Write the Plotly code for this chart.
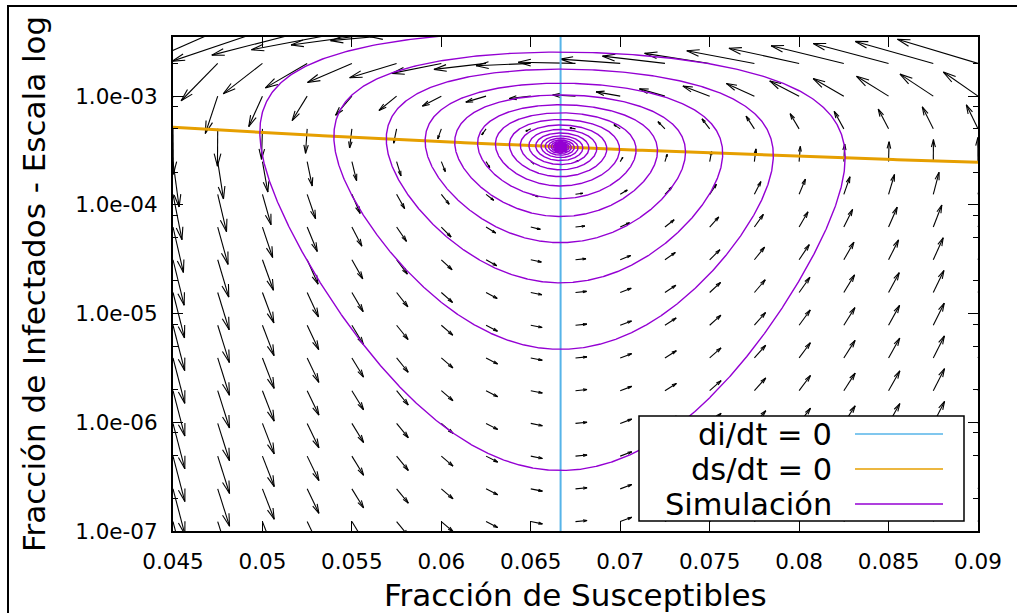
import numpy as np
import plotly.graph_objects as go

# ---- SIR model with births/deaths (rates per day) ----
mu = 1.0 / (75 * 365)        # birth / death rate
gamma = 0.1                  # recovery rate
R0 = 15.0                    # basic reproduction number
beta = R0 * (gamma + mu)     # transmission rate

# initial state of the simulation and its length
s0, i0 = 0.0602, 3.6e-3
t_days = 365 * 150
dt = 0.5
arrow_dt = 19.0              # time step used to scale the field vectors

# axes
s_range = [0.045, 0.09]
i_range = [1e-7, 3.5e-3]
x_ticks = [0.045, 0.05, 0.055, 0.06, 0.065, 0.07, 0.075, 0.08, 0.085, 0.09]
x_ticktext = ["0.045", "0.05", "0.055", "0.06", "0.065", "0.07", "0.075", "0.08", "0.085", "0.09"]
y_ticks = [1e-7, 1e-6, 1e-5, 1e-4, 1e-3]
y_ticktext = ["1.0e-07", "1.0e-06", "1.0e-05", "1.0e-04", "1.0e-03"]
y_minor = [2e-7, 5e-7, 8e-7, 2e-6, 5e-6, 8e-6, 2e-5, 5e-5, 8e-5,
           2e-4, 5e-4, 8e-4, 2e-3]

# grid of the direction field
field_s = [0.045, 0.0475, 0.05, 0.0525, 0.055, 0.0575, 0.06, 0.0625, 0.065,
           0.0675, 0.07, 0.0725, 0.075, 0.0775, 0.08, 0.0825, 0.085, 0.0875, 0.09]
field_i = [6.103516e-08, 1.220703e-07, 2.441406e-07, 4.882813e-07, 9.765625e-07,
           1.953125e-06, 3.90625e-06, 7.8125e-06, 1.5625e-05, 3.125e-05,
           6.25e-05, 1.25e-04, 2.5e-04, 5e-04, 1e-03, 2e-03, 4e-03]

labels = ["di/dt = 0", "ds/dt = 0", "Simulación"]
colors = ["#56b4e9", "#e69f00", "#9400d3"]

FONT = "DejaVu Sans"

# figure geometry (pixels)
FW, FH = 1017, 613
ML, MR, MT, MB = 173, 39, 37, 82
PW, PH = FW - ML - MR, FH - MT - MB


def ds_dt(s, i):
    return mu * (1 - s) - beta * s * i


def di_dt(s, i):
    return (beta * s - gamma - mu) * i


# ---- simulation (RK4 on s and ln i) ----
def rhs(s, li):
    i = np.exp(li)
    return mu * (1 - s) - beta * s * i, beta * s - gamma - mu


n = int(t_days / dt)
S = np.empty(n + 1)
LI = np.empty(n + 1)
s, li = s0, np.log(i0)
S[0], LI[0] = s, li
for k in range(n):
    a1, b1 = rhs(s, li)
    a2, b2 = rhs(s + 0.5 * dt * a1, li + 0.5 * dt * b1)
    a3, b3 = rhs(s + 0.5 * dt * a2, li + 0.5 * dt * b2)
    a4, b4 = rhs(s + dt * a3, li + dt * b3)
    s += dt * (a1 + 2 * a2 + 2 * a3 + a4) / 6
    li += dt * (b1 + 2 * b2 + 2 * b3 + b4) / 6
    S[k + 1], LI[k + 1] = s, li
S_sim = S[::2]
I_sim = np.exp(LI[::2])

# ---- direction field arrows (shaft + open head) ----
lx0, lx1 = s_range
ly0, ly1 = np.log10(i_range[0]), np.log10(i_range[1])


def to_px(s, i):
    return (s - lx0) / (lx1 - lx0) * PW, (np.log10(i) - ly0) / (ly1 - ly0) * PH


def from_px(x, y):
    return lx0 + x / PW * (lx1 - lx0), 10 ** (ly0 + y / PH * (ly1 - ly0))


ax_s, ax_i = [], []
ang = np.radians(15)
for si in field_s:
    for ii in field_i:
        s1 = si + arrow_dt * ds_dt(si, ii)
        i1 = ii + arrow_dt * di_dt(si, ii)
        if i1 <= 0:
            i1 = ii * 1e-3
        x0, y0 = to_px(si, ii)
        x1, y1 = to_px(s1, i1)
        L = np.hypot(x1 - x0, y1 - y0)
        if L < 1e-6:
            continue
        ux, uy = (x1 - x0) / L, (y1 - y0) / L
        h = min(13.0, 0.35 * L)
        ax_s += [si, s1, None]
        ax_i += [ii, i1, None]
        for sg in (1, -1):
            c, sn = np.cos(sg * ang), np.sin(sg * ang)
            bx = x1 - h * (c * ux - sn * uy)
            by = y1 - h * (sn * ux + c * uy)
            bs, bi = from_px(bx, by)
            ax_s += [s1, bs, None]
            ax_i += [i1, bi, None]

# ---- nullclines ----
s_star = (gamma + mu) / beta
nc_s = np.linspace(s_range[0], s_range[1], 200)
nc_i = mu * (1 - nc_s) / (beta * nc_s)

fig = go.Figure()
fig.add_trace(go.Scatter(x=ax_s, y=ax_i, mode="lines",
                         line=dict(color="black", width=1.1),
                         hoverinfo="skip", showlegend=False))
fig.add_trace(go.Scatter(x=[s_star, s_star], y=i_range, mode="lines",
                         line=dict(color=colors[0], width=2), name=labels[0],
                         showlegend=False))
fig.add_trace(go.Scatter(x=nc_s, y=nc_i, mode="lines",
                         line=dict(color=colors[1], width=3), name=labels[1],
                         showlegend=False))
fig.add_trace(go.Scatter(x=S_sim, y=I_sim, mode="lines",
                         line=dict(color=colors[2], width=1.4), name=labels[2],
                         showlegend=False))


def px2paper_x(px):
    return (px - ML) / PW


def px2paper_y(py):
    return 1 - (py - MT) / PH


shapes = []
annotations = []

# outer frame
shapes.append(dict(type="rect", xref="paper", yref="paper",
                   x0=px2paper_x(8), x1=px2paper_x(1100),
                   y0=px2paper_y(700), y1=px2paper_y(6),
                   line=dict(color="black", width=2), layer="below"))

# key box
shapes.append(dict(type="rect", xref="paper", yref="paper",
                   x0=px2paper_x(639), x1=px2paper_x(964),
                   y0=px2paper_y(521), y1=px2paper_y(416),
                   line=dict(color="black", width=1.5), fillcolor="white",
                   layer="above"))
row_y = [434, 469, 504]
for lab, col, ry in zip(labels, colors, row_y):
    shapes.append(dict(type="line", xref="paper", yref="paper",
                       x0=px2paper_x(855), x1=px2paper_x(943),
                       y0=px2paper_y(ry), y1=px2paper_y(ry),
                       line=dict(color=col, width=1.5), layer="above"))
    annotations.append(dict(text=lab, xref="paper", yref="paper",
                            x=px2paper_x(834), y=px2paper_y(ry),
                            xanchor="right", yanchor="middle", showarrow=False,
                            font=dict(family=FONT, size=30.5, color="black")))

# axis titles
annotations.append(dict(text="Fracción de Susceptibles", xref="paper", yref="paper",
                        x=0.5, y=0, yshift=-64, xanchor="center", yanchor="middle",
                        showarrow=False,
                        font=dict(family=FONT, size=31, color="black")))
annotations.append(dict(text="Fracción de Infectados - Escala log", xref="paper",
                        yref="paper", x=0, xshift=-139, y=0.5, textangle=-90,
                        xanchor="center", yanchor="middle", showarrow=False,
                        font=dict(family=FONT, size=31, color="black")))

fig.update_layout(
    width=FW, height=FH,
    margin=dict(l=ML, r=MR, t=MT, b=MB, pad=0),
    paper_bgcolor="white", plot_bgcolor="white",
    showlegend=False,
    shapes=shapes, annotations=annotations,
    font=dict(family=FONT, size=21.5, color="black"),
)
fig.update_xaxes(
    range=s_range, tickvals=x_ticks, ticktext=x_ticktext,
    showgrid=False, zeroline=False, showline=True, linecolor="black", linewidth=2,
    mirror="allticks", ticks="inside", ticklen=10, tickwidth=1.2, tickcolor="black",
    tickfont=dict(family=FONT, size=21.5, color="black"), ticklabelstandoff=10,
)
fig.update_yaxes(
    type="log", range=[ly0, ly1], tickvals=y_ticks, ticktext=y_ticktext,
    showgrid=False, zeroline=False, showline=True, linecolor="black", linewidth=2,
    mirror="allticks", ticks="inside", ticklen=10, tickwidth=1.2, tickcolor="black",
    tickfont=dict(family=FONT, size=21.5, color="black"), ticklabelstandoff=9,
    minor=dict(tickvals=y_minor, ticks="inside", ticklen=5, tickwidth=1.2,
               tickcolor="black", showgrid=False),
)

fig.write_html("out.html")
